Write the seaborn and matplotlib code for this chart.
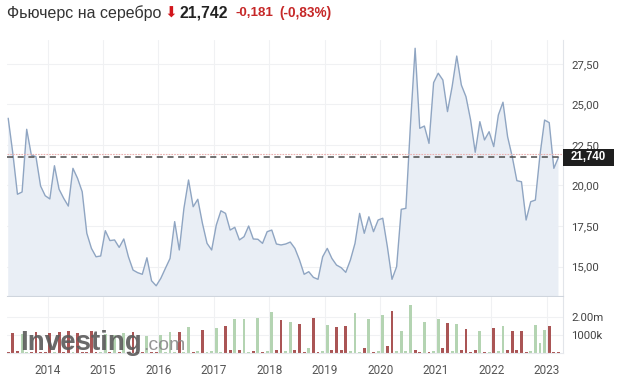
import numpy as np
import pandas as pd
import matplotlib
matplotlib.use("Agg")
import matplotlib.pyplot as plt
from matplotlib.patches import Rectangle
import seaborn as sns

# ---------------- data ----------------
months = pd.date_range("2013-04-01", periods=120, freq="MS")

price = [24.15, 21.99, 19.46, 19.60, 23.47, 21.88, 21.78, 19.97, 19.37, 19.17,
         21.22, 19.77, 19.21, 18.73, 21.06, 20.44, 19.62, 17.05, 16.12, 15.60,
         15.65, 17.21, 16.60, 16.64, 16.18, 16.70, 15.60, 14.78, 14.62, 14.52,
         15.54, 14.12, 13.81, 14.27, 14.89, 15.50, 17.77, 16.02, 18.59, 20.34,
         18.69, 19.15, 17.67, 16.43, 16.02, 17.56, 18.44, 18.28, 17.25, 17.42,
         16.64, 16.84, 17.50, 16.70, 16.68, 16.43, 17.15, 17.25, 16.39, 16.33,
         16.39, 16.51, 16.12, 15.40, 14.52, 14.68, 14.33, 14.21, 15.60, 16.12,
         15.50, 15.09, 14.93, 14.64, 15.40, 16.43, 18.28, 17.05, 18.07, 17.15,
         17.87, 17.98, 16.22, 14.21, 14.99, 18.53, 18.59, 23.80, 28.47, 23.53,
         23.67, 22.60, 26.35, 26.93, 26.51, 24.56, 26.10, 27.99, 26.20, 25.48,
         24.04, 22.05, 23.94, 22.81, 23.32, 22.40, 24.35, 25.14, 23.01, 21.78,
         20.30, 20.23, 17.87, 19.00, 19.10, 21.88, 24.04, 23.88, 21.06, 21.74]

volume_m = [0.05, 1.11, 0.09, 1.05, 0.08, 0.05, 1.15, 0.08, 0.05, 1.10,
            0.08, 1.15, 0.08, 1.20, 0.08, 1.10, 0.08, 0.05, 1.20, 0.08,
            0.05, 1.05, 0.08, 1.00, 0.08, 1.10, 0.08, 1.15, 0.08, 0.05,
            0.93, 0.03, 0.03, 1.02, 0.03, 1.15, 0.03, 1.19, 0.03, 1.44,
            0.03, 0.09, 1.26, 0.03, 0.09, 1.39, 0.07, 1.52, 0.15, 1.91,
            0.15, 1.91, 0.03, 0.09, 1.94, 0.03, 0.09, 2.28, 0.15, 1.81,
            0.09, 1.72, 0.15, 1.61, 0.03, 0.26, 1.93, 0.03, 0.13, 1.56,
            0.15, 1.43, 0.15, 1.48, 0.13, 2.20, 0.03, 0.26, 1.89, 0.03,
            0.13, 2.13, 0.41, 2.35, 0.11, 1.20, 0.13, 2.67, 0.19, 0.03,
            1.70, 0.03, 0.11, 1.89, 0.26, 1.67, 0.13, 1.61, 0.15, 1.33,
            0.03, 0.17, 1.20, 0.03, 0.05, 1.39, 0.13, 1.48, 0.17, 1.20,
            0.15, 1.20, 0.03, 0.13, 1.56, 0.54, 1.26, 1.48, 0.05, 0.03]

direction = ["down", "down", "down", "up", "up", "down", "down", "down", "down", "down",
             "up", "down", "down", "down", "up", "down", "down", "down", "down", "down",
             "up", "up", "down", "up", "down", "up", "down", "down", "down", "down",
             "up", "down", "down", "up", "up", "up", "up", "down", "up", "up",
             "down", "up", "down", "up", "up", "up", "up", "down", "down", "up",
             "down", "up", "up", "down", "up", "down", "up", "up", "down", "down",
             "up", "up", "down", "down", "down", "up", "down", "down", "up", "up",
             "down", "down", "down", "down", "up", "up", "up", "down", "up", "down",
             "up", "up", "down", "down", "up", "up", "up", "up", "down", "down",
             "up", "down", "up", "up", "down", "down", "up", "up", "down", "down",
             "down", "down", "up", "down", "up", "down", "up", "up", "down", "down",
             "down", "down", "down", "up", "up", "up", "up", "down", "down", "down"]

year_ticks = list(range(2014, 2024))
price_ticks = [15.0, 17.5, 20.0, 22.5, 25.0, 27.5]
vol_ticks = [1.0e6, 2.0e6]
vol_tick_labels = ["1000k", "2.00m"]

title = "Фьючерс на серебро"
last_price = "21,742"
change = "-0,181"
change_pct = "(-0,83%)"
marker_value = 21.740
prev_close = 21.923

# ---------------- figure ----------------
W, H = 622, 388
sns.set_style("white")
plt.rcParams["font.family"] = ["Liberation Sans", "DejaVu Sans"]

fig = plt.figure(figsize=(W / 100, H / 100), dpi=100)
fig.patch.set_facecolor("white")


def px(x0, y0, x1, y1):
    return [x0 / W, 1 - y1 / H, (x1 - x0) / W, (y1 - y0) / H]


ax = fig.add_axes(px(7, 40, 563, 296))
axv = fig.add_axes(px(7, 297, 563, 353))

xs = months.year + (months.month - 1 + 0.5) / 12.0
xlim = (2013.27, 2023.29)

df = pd.DataFrame({"x": xs, "price": price})
ax.fill_between(df["x"], df["price"], 0, color="#e9eef5", zorder=1, lw=0)
sns.lineplot(data=df, x="x", y="price", ax=ax, color="#8fa5c2", lw=1.0, zorder=3)

ax.set_xlim(*xlim)
ax.set_ylim(13.18, 28.98)
ax.set_xticks(year_ticks)
ax.set_yticks(price_ticks)
ax.set_yticklabels([f"{v:.2f}".replace(".", ",") for v in price_ticks])
ax.yaxis.tick_right()
ax.tick_params(axis="y", length=0, pad=6, labelsize=8.2, labelcolor="#444")
ax.tick_params(axis="x", length=0, labelbottom=False)
for lab in ax.get_yticklabels():
    lab.set_fontfamily(["Roboto", "DejaVu Sans"])
ax.grid(True, color="#f0f1f3", lw=0.8, zorder=0)
ax.set_axisbelow(True)
ax.set_xlabel("")
ax.set_ylabel("")
for s in ["top", "left"]:
    ax.spines[s].set_visible(False)
ax.spines["right"].set_color("#e2e5ea")
ax.spines["bottom"].set_color("#cfd5dd")

ax.axhline(prev_close, color="#eab0b0", lw=0.8, ls=(0, (1.5, 1)), zorder=4)
ax.axhline(marker_value, color="#4a4a4a", lw=1.1, ls=(0, (4, 3)), zorder=4)

trans = ax.get_yaxis_transform()
box_w = 51 / 556
ax.add_patch(Rectangle((1.0, marker_value - 0.53), box_w, 1.06, transform=trans,
                       clip_on=False, fc="#1e1e1e", ec="none", zorder=10))
ax.text(1.0 + box_w / 2, marker_value, f"{marker_value:.3f}".replace(".", ","),
        transform=trans, ha="center", va="center", color="white",
        fontsize=8.3, fontweight="bold", zorder=11, clip_on=False)

# volume
vdf = pd.DataFrame({"x": xs, "vol": np.array(volume_m) * 1e6, "dir": direction})
sns.barplot(data=vdf, x="x", y="vol", hue="dir",
            palette={"up": "#b4d4b2", "down": "#aa5555"},
            native_scale=True, dodge=False, width=0.62, errorbar=None,
            legend=False, saturation=1, ax=axv, linewidth=0)
axv.set_xlim(*xlim)
axv.set_ylim(0, 3.11e6)
axv.set_xticks(year_ticks)
axv.set_xticklabels([str(y) for y in year_ticks])
axv.set_yticks(vol_ticks)
axv.set_yticklabels(vol_tick_labels)
axv.yaxis.tick_right()
axv.tick_params(axis="y", length=0, pad=6, labelsize=8.2, labelcolor="#444")
axv.tick_params(axis="x", length=0, pad=8, labelsize=8.5, labelcolor="#555")
for lab in axv.get_yticklabels() + axv.get_xticklabels():
    lab.set_fontfamily(["Roboto", "DejaVu Sans"])
axv.grid(True, color="#f0f1f3", lw=0.8, zorder=0)
axv.set_axisbelow(True)
axv.set_xlabel("")
axv.set_ylabel("")
for s in ["top", "left"]:
    axv.spines[s].set_visible(False)
axv.spines["right"].set_color("#e2e5ea")
axv.spines["bottom"].set_color("#e6e8ec")

# header
def ftext(x, y, s, **kw):
    return fig.text(x / W, 1 - y / H, s, va="center", ha="left", **kw)

ftext(7, 13, title, fontsize=11.5, color="#333333")
ftext(164, 13.5, "⬇", fontsize=11, color="#d2161c", family=["DejaVu Sans"])
ftext(180, 13, last_price, fontsize=11.3, color="#222222", fontweight="bold")
ftext(235, 13.5, change, fontsize=9.6, color="#c62828", fontweight="bold")
ftext(279, 13.5, change_pct, fontsize=9.8, color="#c62828", fontweight="bold")

# watermark logo
fig.text(20 / W, 1 - 350 / H, "Investing", fontsize=20, fontweight="bold",
         color="#5a5a5a", alpha=0.9, va="baseline", ha="left")
fig.text(143 / W, 1 - 350 / H, ".com", fontsize=14, color="#8a8a8a",
         alpha=0.9, va="baseline", ha="left")

fig.savefig("out.png", dpi=100)
